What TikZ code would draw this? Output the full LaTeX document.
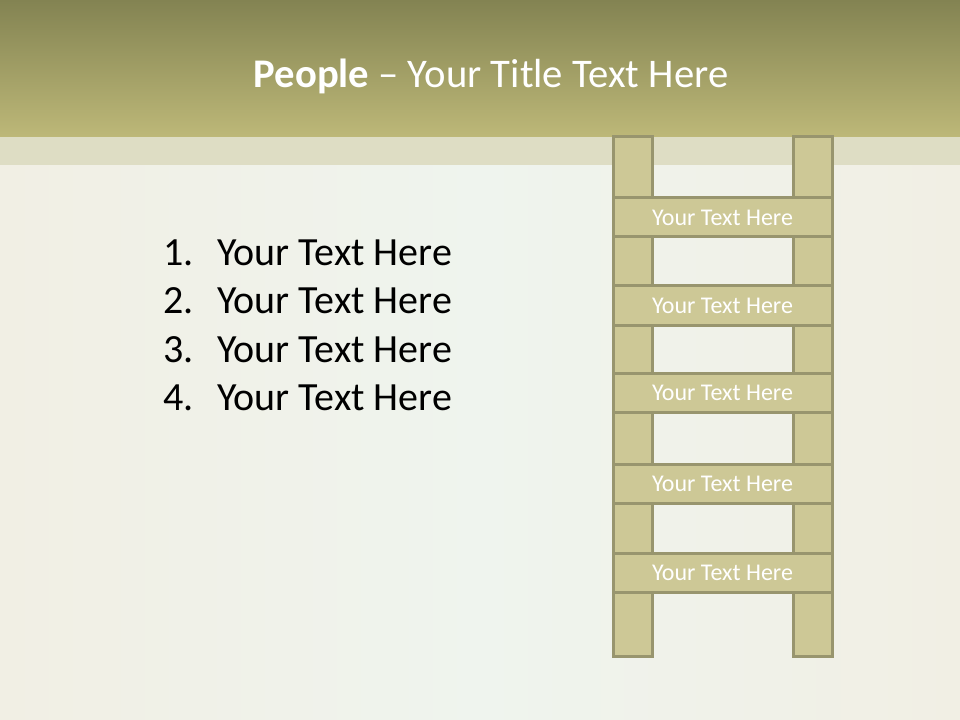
\documentclass[tikz,border=0pt]{standalone}
\usepackage{fontspec}
\setmainfont{Carlito}
\usepackage{tikz}
\usetikzlibrary{positioning}
\definecolor{headtop}{RGB}{131,131,82}
\definecolor{headbot}{RGB}{189,184,120}
\definecolor{stripbg}{RGB}{222,221,196}
\definecolor{pagebg}{RGB}{239,244,238}
\definecolor{pageedge}{RGB}{241,239,228}
\definecolor{woodfill}{RGB}{205,200,150}
\definecolor{woodline}{RGB}{152,149,110}

\begin{document}
\begin{tikzpicture}[
    x=0.75pt, y=-0.75pt,
    rail/.style={draw=woodline, fill=woodfill, line width=2.25pt},
    rung/.style={rectangle, draw=woodline, fill=woodfill, line width=2.25pt,
                 minimum width=164.25pt, minimum height=29.25pt, inner sep=0pt,
                 text=white, font=\fontsize{18}{20}\selectfont},
    item/.style={anchor=base west, inner sep=0pt, font=\fontsize{30}{34}\selectfont}
]
\useasboundingbox (0,0) rectangle (960,720);
% background and title band
\shade[left color=pageedge, right color=pageedge, middle color=pagebg]
    (0,0) rectangle (960,720);
\shade[top color=headtop, bottom color=headbot] (0,0) rectangle (960,137);
\fill[stripbg] (0,137) rectangle (960,165);
\node[text=white, anchor=base, inner sep=0pt, font=\fontsize{30.5}{34}\selectfont]
    (title) at (491,88) {\textbf{People} -- Your Title Text Here};
% numbered list
\node[item] (n1) at (163,266) {1.};
\node[item] (t1) at (217,266) {Your Text Here};
\node[item] (n2) at (163,314) {2.};
\node[item] (t2) at (217,314) {Your Text Here};
\node[item] (n3) at (163,362) {3.};
\node[item] (t3) at (217,362) {Your Text Here};
\node[item] (n4) at (163,410) {4.};
\node[item] (t4) at (217,410) {Your Text Here};
% ladder
\draw[rail] (613,137) rectangle (652,656);
\draw[rail] (793,137) rectangle (832,656);
\node[rung] (r1) at (722.5,217.5) {Your Text Here};
\node[rung] (r2) at (722.5,305.5) {Your Text Here};
\node[rung] (r3) at (722.5,392.5) {Your Text Here};
\node[rung] (r4) at (722.5,483.5) {Your Text Here};
\node[rung] (r5) at (722.5,572.5) {Your Text Here};
\end{tikzpicture}
\end{document}
